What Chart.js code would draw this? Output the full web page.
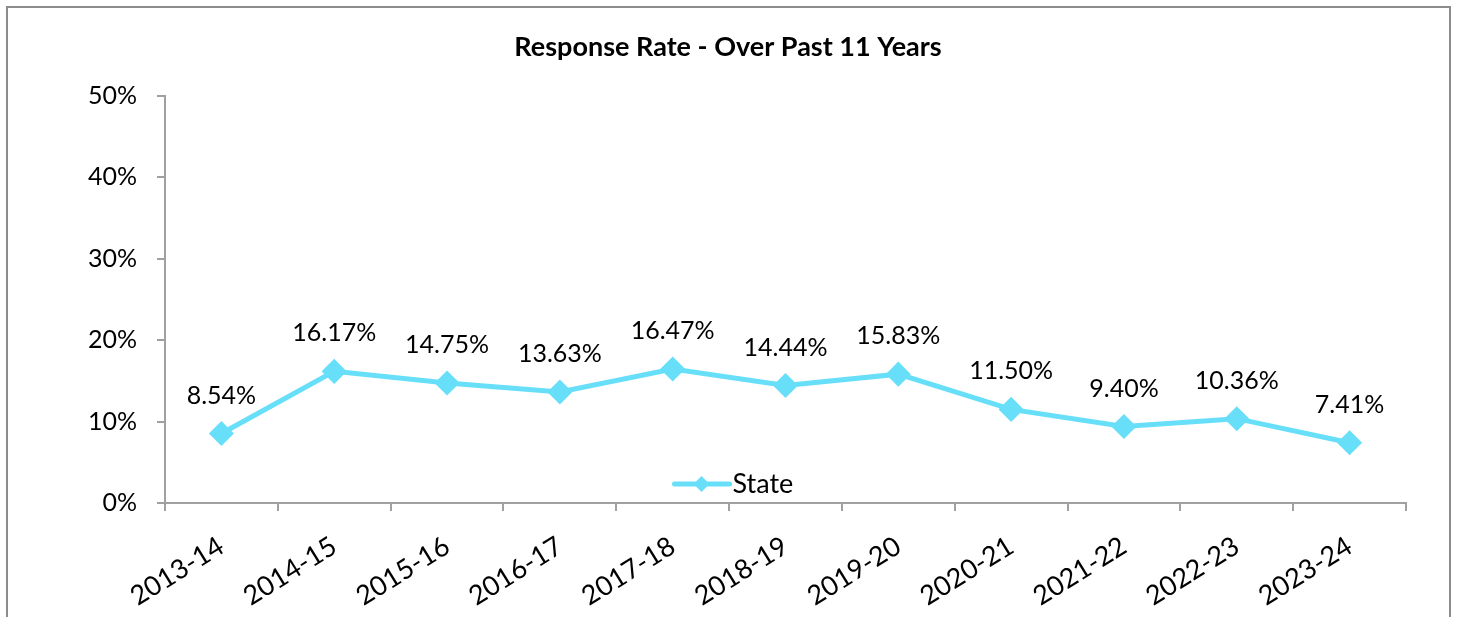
<!DOCTYPE html>
<html>
<head>
<meta charset="utf-8">
<script src="https://cdn.jsdelivr.net/npm/chart.js@4"></script>
<style>
  html, body { margin: 0; padding: 0; background: #fff; }
  #wrap { position: relative; width: 1459px; height: 617px; }
</style>
</head>
<body>
<div id="wrap"><canvas id="chart" width="1459" height="617"></canvas></div>
<script>
const years = ["2013-14", "2014-15", "2015-16", "2016-17", "2017-18", "2018-19",
               "2019-20", "2020-21", "2021-22", "2022-23", "2023-24"];
const stateRate = [8.54, 16.17, 14.75, 13.63, 16.47, 14.44, 15.83, 11.50, 9.40, 10.36, 7.41];
const yTicks = [0, 10, 20, 30, 40, 50];
const chartTitle = "Response Rate - Over Past 11 Years";

const lineColor = "#68DFF9";
const axisColor = "#a0a0a0";
const fontName = "Lato, 'Open Sans', sans-serif";

// frame, title, data labels and the in-plot legend
const extras = {
    id: "extras",
    beforeDraw(chart) {
        let c = chart.ctx;
        c.save();
        c.fillStyle = "#fff";
        c.fillRect(0, 0, chart.width, chart.height);
        c.strokeStyle = "#8c8c8c";
        c.lineWidth = 2;
        c.strokeRect(7, 7, 1443, 700);
        c.font = "bold 27px " + fontName;
        c.fillStyle = "#000";
        c.textAlign = "center";
        c.textBaseline = "middle";
        c.fillText(chartTitle, 728, 47);
        c.restore();
    },
    afterDatasetsDraw(chart) {
        let c = chart.ctx;
        let meta = chart.getDatasetMeta(0);
        c.save();
        c.font = "25px " + fontName;
        c.fillStyle = "#000";
        c.textAlign = "center";
        c.textBaseline = "middle";
        meta.data.forEach(function (pt, i) {
            c.fillText(stateRate[i].toFixed(2) + "%", pt.x, pt.y - 38);
        });
        // legend
        let ly = chart.chartArea.bottom - 19;
        let lx = chart.width / 2 - 28;
        c.strokeStyle = lineColor;
        c.lineWidth = 5;
        c.lineCap = "round";
        c.beginPath();
        c.moveTo(lx - 27, ly);
        c.lineTo(lx + 28, ly);
        c.stroke();
        c.fillStyle = lineColor;
        c.beginPath();
        c.moveTo(lx, ly - 8);
        c.lineTo(lx + 8, ly);
        c.lineTo(lx, ly + 8);
        c.lineTo(lx - 8, ly);
        c.closePath();
        c.fill();
        c.fillStyle = "#000";
        c.textAlign = "left";
        c.font = "27px " + fontName;
        c.fillText("State", lx + 31, ly);
        c.restore();
    }
};

new Chart(document.getElementById("chart"), {
    type: "line",
    data: {
        labels: years,
        datasets: [{
            label: "State",
            data: stateRate,
            borderColor: lineColor,
            backgroundColor: lineColor,
            borderWidth: 5,
            pointStyle: "rectRot",
            pointRadius: 9,
            pointHoverRadius: 9,
            tension: 0
        }]
    },
    options: {
        responsive: false,
        animation: false,
        layout: { padding: { left: 0, right: 53, top: 96, bottom: 0 } },
        plugins: {
            legend: { display: false },
            tooltip: { enabled: false },
            title: { display: false }
        },
        scales: {
            x: {
                offset: true,
                afterFit: function (s) { s.height = 114; },
                border: { color: axisColor, width: 2 },
                grid: { offset: true, drawOnChartArea: false, drawTicks: true, tickLength: 8, color: axisColor, lineWidth: 2 },
                ticks: {
                    color: "#000",
                    font: { family: fontName, size: 27 },
                    maxRotation: 32,
                    minRotation: 32,
                    autoSkip: false,
                    padding: 19
                }
            },
            y: {
                min: yTicks[0],
                max: yTicks[yTicks.length - 1],
                afterFit: function (s) { s.width = 165; },
                afterBuildTicks: function (s) { s.ticks = yTicks.map(v => ({ value: v })); },
                border: { color: axisColor, width: 2 },
                grid: { drawOnChartArea: false, drawTicks: true, tickLength: 8, color: axisColor, lineWidth: 2 },
                ticks: {
                    color: "#000",
                    font: { family: fontName, size: 25 },
                    padding: 20,
                    callback: function (v) { return v + "%"; }
                }
            }
        }
    },
    plugins: [extras]
});
</script>
</body>
</html>
